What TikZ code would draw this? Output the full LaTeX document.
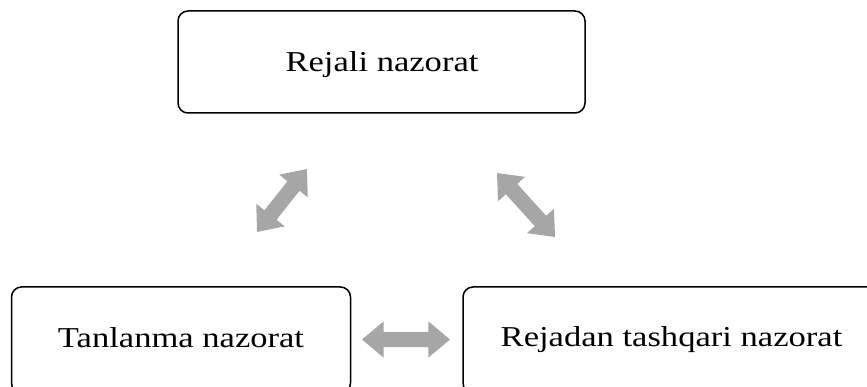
\documentclass[tikz,border=0pt]{standalone}
\usepackage{fontspec}
\setmainfont[FakeStretch=1.2]{Liberation Serif}
\usetikzlibrary{shapes.arrows}
\tikzset{
  box/.style={draw=black, line width=1.5pt, rounded corners=10pt},
  label/.style={font=\fontsize{28.8pt}{30pt}\selectfont, text=black, inner sep=0pt},
  fatarrow/.style={double arrow, draw=none, fill=arrowgray,
    inner xsep=0pt, inner ysep=7.5pt, text height=0pt, text depth=0pt,
    minimum width=36pt, double arrow head extend=10.5pt,
    double arrow tip angle=80}
}
\definecolor{arrowgray}{HTML}{A6A6A6}
\begin{document}
\begin{tikzpicture}[x=1pt,y=-1pt]
  \useasboundingbox (0,0) rectangle (867,387);
  \begin{scope}
    \clip (0,0) rectangle (867,387);
    % boxes
    \draw[box] (178,11) rectangle (585,113);
    \draw[box] (11.5,287) rectangle (350.5,393);
    \draw[box] (463,287) rectangle (880,393);
  \end{scope}
  % box labels
  \node[label, anchor=base] (top) at (382,71.5) {Rejali nazorat};
  \node[label, anchor=base] (left) at (181,347) {Tanlanma nazorat};
  \node[label, anchor=base] (right) at (671.5,346) {Rejadan tashqari nazorat};
  % double arrows between the boxes
  \node[fatarrow, minimum height=80.4pt, rotate=51.6] (arrL) at (282,200.5) {};
  \node[fatarrow, minimum height=86.4pt, rotate=-47.8] (arrR) at (526,205) {};
  \node[fatarrow, minimum height=88pt] (arrB) at (406,339.5) {};
\end{tikzpicture}
\end{document}
